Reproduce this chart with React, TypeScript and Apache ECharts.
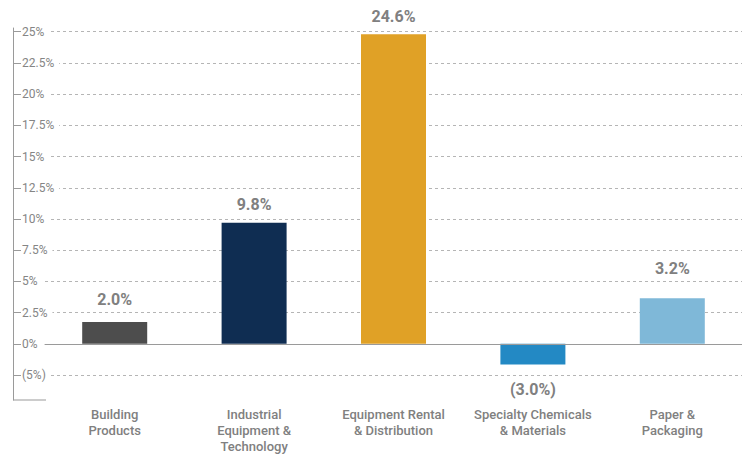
import React, { useEffect, useRef } from "react";
import * as echarts from "echarts";

const categories = [
  "Building\nProducts",
  "Industrial\nEquipment &\nTechnology",
  "Equipment Rental\n& Distribution",
  "Specialty Chemicals\n& Materials",
  "Paper &\nPackaging",
];
const barValues = [1.75, 9.7, 24.8, -1.65, 3.65];
const barLabels = ["2.0%", "9.8%", "24.6%", "(3.0%)", "3.2%"];
const barColors = ["#4d4d4d", "#0f2d52", "#e0a126", "#2389c4", "#7fb8d8"];
const tickValues = [-2.5, 0, 2.5, 5, 7.5, 10, 12.5, 15, 17.5, 20, 22.5, 25];
const tickLabels = ["(5%)", "0%", "2.5%", "5%", "7.5%", "10%", "12.5%", "15%", "17.5%", "20%", "22.5%", "25%"];
const labelGaps = [14, 10, 10, 17, 22];

export default function App() {
  const ref = useRef<HTMLDivElement>(null);
  useEffect(() => {
    document.body.style.margin = "0";
    if (!ref.current) return;
    const chart = echarts.init(ref.current, null, { renderer: "svg" });
    const font = "Roboto, 'Noto Sans', sans-serif";
    chart.setOption({
      animation: false,
      grid: { left: 45, right: 0, top: 28, bottom: 54, containLabel: false },
      xAxis: {
        type: "category",
        data: categories,
        axisLine: { show: true, lineStyle: { color: "#9a9a9a", width: 1 } },
        axisTick: { show: false },
        axisLabel: {
          interval: 0,
          margin: 6,
          color: "#808080",
          fontFamily: font,
          fontSize: 13,
          fontWeight: 500,
          lineHeight: 16,
        },
      },
      yAxis: {
        type: "value",
        min: -4.5,
        max: 25.3,
        position: "left",
        offset: 32,
        axisLine: { show: true, lineStyle: { color: "#9a9a9a", width: 1 } },
        axisTick: {
          show: true,
          inside: true,
          length: 8,
          customValues: tickValues,
          lineStyle: { color: "#9a9a9a" },
        },
        axisLabel: {
          inside: true,
          margin: 9,
          customValues: tickValues,
          color: "#858585",
          fontFamily: font,
          fontSize: 12,
          backgroundColor: "#ffffff",
          padding: [1, 5, 1, 0],
          formatter: (v: number) => {
            const i = tickValues.findIndex((t) => Math.abs(t - v) < 1e-6);
            return i >= 0 ? tickLabels[i] : "";
          },
        },
        splitLine: {
          show: true,
          lineStyle: { color: "#b5b5b5", type: [3, 3], width: 1 },
        },
      },
      graphic: {
        elements: [
          {
            type: "line",
            x: 0,
            y: 0,
            z: 100,
            shape: { x1: 13, y1: 400, x2: 46, y2: 400 },
            style: { stroke: "#9a9a9a", lineWidth: 1.2 },
            silent: true,
          },
        ],
      },
      series: [
        {
          type: "bar",
          barWidth: 65,
          data: barValues.map((v, i) => ({
            value: v,
            itemStyle: { color: barColors[i] },
            label: {
              show: true,
              position: v >= 0 ? "top" : "bottom",
              distance: labelGaps[i],
              formatter: barLabels[i],
              color: "#808080",
              fontFamily: font,
              fontSize: 16,
              fontWeight: "bold",
            },
          })),
          markLine: {
            silent: true,
            symbol: "none",
            label: { show: false },
            lineStyle: { color: "#9a9a9a", type: "solid", width: 1.2 },
            data: [{ yAxis: 0 }],
          },
        },
      ],
    });
    return () => chart.dispose();
  }, []);
  return <div ref={ref} style={{ width: 742, height: 454 }} />;
}
